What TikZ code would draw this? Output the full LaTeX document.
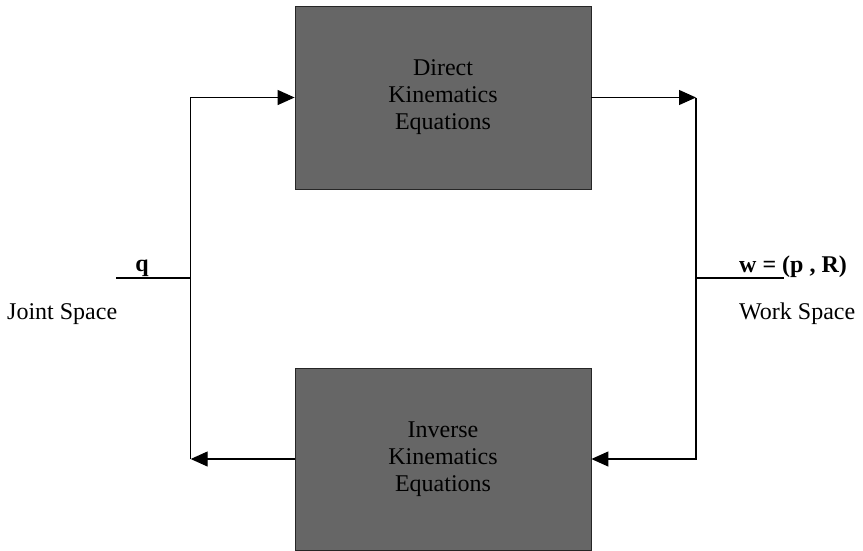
\documentclass[tikz,border=0pt]{standalone}
\usepackage{fontspec}
\setmainfont{Liberation Serif}
\usetikzlibrary{arrows.meta}
\tikzset{
  kinbox/.style={draw=black!85, line width=0.8pt, fill=black!60, minimum width=296pt, minimum height=183pt, inner sep=0pt, align=center, font=\fontsize{24}{27}\selectfont, text=black},
  wire/.style={draw=black, line width=1.2pt},
  arr/.style={wire, -{Triangle[length=17pt,width=15pt]}},
  lbl/.style={font=\fontsize{24}{27}\selectfont, inner sep=0pt},
}
\begin{document}
\begin{tikzpicture}[x=1pt,y=-1pt]
\useasboundingbox (0,0) rectangle (863,550);
\node[kinbox] (direct) at (443,97.5) {Direct\\Kinematics\\Equations};
\node[kinbox, minimum height=182pt] (inverse) at (443,459) {Inverse\\Kinematics\\Equations};
\coordinate (ltop) at (190.7,97.5);
\coordinate (lbot) at (190.7,459);
\coordinate (rtop) at (696,97.5);
\coordinate (rbot) at (696,459);
\coordinate (qend) at (116,278);
\coordinate (qjoin) at (190.7,278);
\coordinate (wjoin) at (696,278);
\coordinate (wend) at (784,278);
% left loop
\draw[arr] (inverse.west) -- (lbot);
\draw[arr] (lbot) -- (ltop) -- (direct.west);
% right loop
\draw[arr] (direct.east) -- (rtop);
\draw[arr] (rtop) -- (rbot) -- (inverse.east);
% side lines
\draw[wire] (qend) -- (qjoin);
\draw[wire] (wjoin) -- (wend);
% labels
\node[lbl, anchor=base] (q) at (142,271) {\textbf{q}};
\node[lbl, anchor=base west] (joint) at (7,319) {Joint Space};
\node[lbl, anchor=base west] (w) at (739,272) {\textbf{w = (p , R)}};
\node[lbl, anchor=base west] (work) at (739,319) {Work Space};
\end{tikzpicture}
\end{document}
